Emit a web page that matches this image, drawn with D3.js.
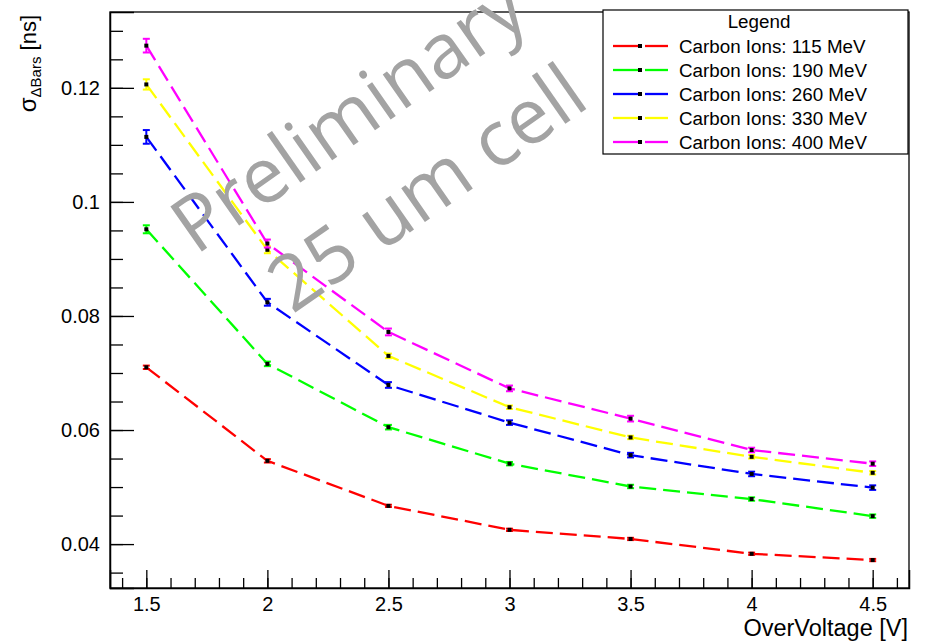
<!DOCTYPE html>
<html>
<head>
<meta charset="utf-8">
<script src="https://cdn.jsdelivr.net/npm/d3@7"></script>
<style>
  body { margin: 0; background: #fff; }
  svg { display: block; }
  text { font-family: "Liberation Sans", Arial, Helvetica, sans-serif; }
</style>
</head>
<body>
<svg id="chart" width="926" height="641"></svg>
<script>
// data
const overVoltage = [1.5, 2, 2.5, 3, 3.5, 4, 4.5];

const energies = ['115 MeV', '190 MeV', '260 MeV', '330 MeV', '400 MeV'];
const colors = ['#ff0000', '#00ff00', '#0000ff', '#ffff00', '#ff00ff'];

const sigma115 = [0.0710, 0.0546, 0.0467, 0.0425, 0.0409, 0.0383, 0.0372];
const sigma190 = [0.0952, 0.0716, 0.0605, 0.0541, 0.0501, 0.0479, 0.0449];
const sigma260 = [0.1114, 0.0824, 0.0679, 0.0613, 0.0556, 0.0523, 0.0499];
const sigma330 = [0.1206, 0.0916, 0.0730, 0.0640, 0.0587, 0.0553, 0.0525];
const sigma400 = [0.1274, 0.0927, 0.0772, 0.0673, 0.0620, 0.0565, 0.0541];

const err115 = [0.0003, 0.0003, 0.0002, 0.0002, 0.0002, 0.0002, 0.0002];
const err190 = [0.0007, 0.0004, 0.0004, 0.0003, 0.0003, 0.0003, 0.0003];
const err260 = [0.0012, 0.0006, 0.0005, 0.0004, 0.0004, 0.0004, 0.0004];
const err330 = [0.0009, 0.0006, 0.0004, 0.0003, 0.0003, 0.0003, 0.0003];
const err400 = [0.0012, 0.0007, 0.0006, 0.0005, 0.0005, 0.0004, 0.0004];

const xTicks = [1.5, 2, 2.5, 3, 3.5, 4, 4.5];
const yTicks = [0.04, 0.06, 0.08, 0.1, 0.12];

const seriesValues = [sigma115, sigma190, sigma260, sigma330, sigma400];
const seriesErrors = [err115, err190, err260, err330, err400];

const series = energies.map((e, i) => ({
    label: 'Carbon Ions: ' + e,
    color: colors[i],
    points: overVoltage.map((v, j) => ({ x: v, y: seriesValues[i][j], err: seriesErrors[i][j] }))
}));

const svg = d3.select('#chart');
const frame = { left: 110, right: 909, top: 12, bottom: 588 };

const xScale = d3.scaleLinear().domain([1.35, 4.65]).range([frame.left, frame.right]);
const yScale = d3.scaleLinear().domain([0.0323, 0.1333]).range([frame.bottom, frame.top]);

// frame box
svg.append('rect')
    .attr('x', frame.left)
    .attr('y', frame.top)
    .attr('width', frame.right - frame.left)
    .attr('height', frame.bottom - frame.top)
    .attr('fill', 'none')
    .attr('stroke', '#000')
    .attr('stroke-width', 1.3);

// x axis, ticks pointing inward
const xAxis = d3.axisBottom(xScale)
    .tickValues(xTicks)
    .tickSize(-18)
    .tickPadding(9)
    .tickFormat(d3.format('~g'));

const xAxisGroup = svg.append('g')
    .attr('transform', `translate(0,${frame.bottom})`)
    .call(xAxis);

svg.append('g')
    .attr('transform', `translate(0,${frame.bottom})`)
    .call(d3.axisBottom(xScale).tickValues(d3.range(14, 47).map(d => d / 10)).tickSize(-10).tickFormat(''))
    .call(g => g.select('.domain').remove());

// y axis
const yAxis = d3.axisLeft(yScale)
    .tickValues(yTicks)
    .tickSize(-24)
    .tickPadding(10)
    .tickFormat(d3.format('~g'));

const yAxisGroup = svg.append('g')
    .attr('transform', `translate(${frame.left},0)`)
    .call(yAxis);

svg.append('g')
    .attr('transform', `translate(${frame.left},0)`)
    .call(d3.axisLeft(yScale).tickValues(d3.range(7, 27).map(d => d * 0.005)).tickSize(-13).tickFormat(''))
    .call(g => g.select('.domain').remove());

svg.selectAll('.tick line').attr('stroke', '#000').attr('stroke-width', 1.3);
svg.selectAll('.domain').attr('stroke', '#000').attr('stroke-width', 1.5);
xAxisGroup.selectAll('text').attr('font-size', 20).attr('fill', '#000');
yAxisGroup.selectAll('text').attr('font-size', 20).attr('fill', '#000');

// axis titles
svg.append('text')
    .attr('x', frame.right - 1)
    .attr('y', 636)
    .attr('text-anchor', 'end')
    .attr('font-size', 23.5)
    .text('OverVoltage [V]');

const yTitle = svg.append('text')
    .attr('transform', 'translate(36,15) rotate(-90)')
    .attr('text-anchor', 'end')
    .attr('font-size', 22);
yTitle.append('tspan').attr('font-size', 24).text('σ');
yTitle.append('tspan').attr('font-size', 15).attr('dy', 5).text('ΔBars');
yTitle.append('tspan').attr('dy', -5).text(' [ns]');

// graphs
const line = d3.line()
    .x(d => xScale(d.x))
    .y(d => yScale(d.y));

const marks = svg.append('g');

series.forEach(s => {
    const g = marks.append('g');
    g.append('path')
        .datum(s.points)
        .attr('fill', 'none')
        .attr('stroke', s.color)
        .attr('stroke-width', 2.3)
        .attr('stroke-dasharray', '17 7')
        .attr('d', line);

    // error bars with end caps
    const eb = g.selectAll('.err').data(s.points).join('g')
        .attr('stroke', s.color)
        .attr('stroke-width', 2);
    eb.append('line')
        .attr('x1', d => xScale(d.x)).attr('x2', d => xScale(d.x))
        .attr('y1', d => yScale(d.y - d.err)).attr('y2', d => yScale(d.y + d.err));
    eb.append('line')
        .attr('x1', d => xScale(d.x) - 3.5).attr('x2', d => xScale(d.x) + 3.5)
        .attr('y1', d => yScale(d.y + d.err)).attr('y2', d => yScale(d.y + d.err));
    eb.append('line')
        .attr('x1', d => xScale(d.x) - 3.5).attr('x2', d => xScale(d.x) + 3.5)
        .attr('y1', d => yScale(d.y - d.err)).attr('y2', d => yScale(d.y - d.err));

    g.selectAll('.pt').data(s.points).join('rect')
        .attr('x', d => xScale(d.x) - 2)
        .attr('y', d => yScale(d.y) - 2)
        .attr('width', 4)
        .attr('height', 4)
        .attr('fill', '#000');
});

// watermark (cut at the top edge, as in the original)
const wm = svg.append('g')
    .attr('fill', '#a3a3a3')
    .attr('font-size', 77)
    .attr('text-anchor', 'middle');
wm.append('text')
    .attr('transform', 'translate(364,138) rotate(-35)')
    .style('font-family', '"Open Sans", sans-serif')
    .text('Preliminary');
wm.append('text')
    .attr('transform', 'translate(442,210) rotate(-35)')
    .style('font-family', '"Open Sans", sans-serif')
    .text('25 um cell');

// legend
const legend = svg.append('g');
legend.append('rect')
    .attr('x', 603).attr('y', 10)
    .attr('width', 305).attr('height', 144)
    .attr('fill', '#fff')
    .attr('stroke', '#000')
    .attr('stroke-width', 1.2);
legend.append('text')
    .attr('x', 759).attr('y', 28)
    .attr('text-anchor', 'middle')
    .attr('font-size', 18.8)
    .text('Legend');

const rows = legend.selectAll('.row').data(series).join('g')
    .attr('transform', (d, i) => `translate(0,${46 + i * 24})`);
rows.append('line')
    .attr('x1', 613).attr('x2', 638).attr('y1', 0).attr('y2', 0)
    .attr('stroke', d => d.color).attr('stroke-width', 2.3);
rows.append('line')
    .attr('x1', 645).attr('x2', 668).attr('y1', 0).attr('y2', 0)
    .attr('stroke', d => d.color).attr('stroke-width', 2.3);
rows.append('rect')
    .attr('x', 638).attr('y', -2).attr('width', 4).attr('height', 4)
    .attr('fill', '#000');
rows.append('text')
    .attr('x', 679).attr('y', 6.5)
    .attr('font-size', 18.8)
    .text(d => d.label);
</script>
</body>
</html>
